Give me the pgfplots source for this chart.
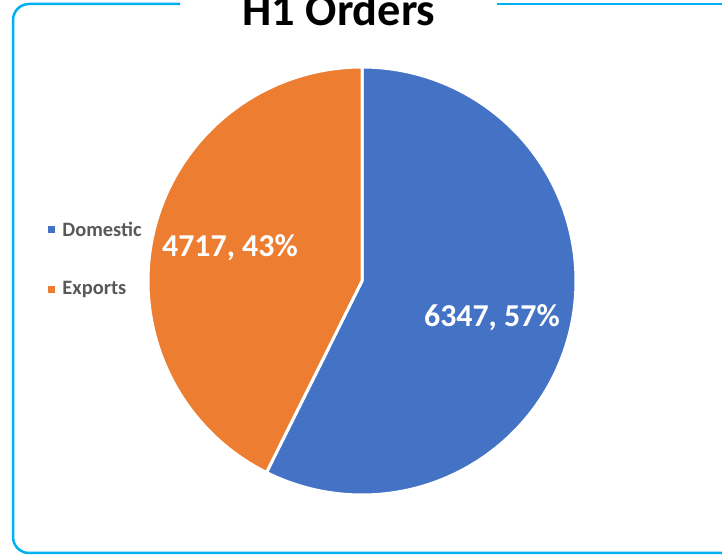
\documentclass[border=0pt]{standalone}
\usepackage{pgfplots}
\usepackage{pgfplotstable}
\pgfplotsset{compat=1.18}
\usepackage{fontspec}
\setmainfont{Carlito}
\definecolor{dom}{HTML}{4472C4}
\definecolor{expo}{HTML}{ED7D31}
\definecolor{framec}{HTML}{00B0F0}
\definecolor{legtext}{HTML}{595959}
\pgfplotstableread{
label value
Domestic 6347
Exports 4717
}\ordertable
\begin{document}
\begin{tikzpicture}
\pgfplotstablegetelem{0}{value}\of\ordertable \let\vDom\pgfplotsretval
\pgfplotstablegetelem{1}{value}\of\ordertable \let\vExp\pgfplotsretval
\pgfmathsetmacro\angA{360*(\vDom/(\vDom+\vExp))}
\useasboundingbox (0bp,0bp) rectangle (722bp,556bp);
\clip (0bp,0bp) rectangle (722bp,556bp);
\draw[framec, line width=2.5bp, rounded corners=16bp] (180bp,552bp) -- (13bp,552bp) -- (13bp,3bp) -- (760bp,3bp);
\draw[framec, line width=2.5bp] (497bp,552bp) -- (760bp,552bp);
\node[anchor=base, font=\bfseries\fontsize{46.5}{50}\selectfont] at (339bp,530bp) {H1 Orders};
\begin{axis}[
  at={(148bp,61bp)}, anchor=south west,
  scale only axis, width=428bp, height=428bp,
  xmin=-1, xmax=1, ymin=-1, ymax=1,
  axis lines=none, clip=false,
  legend style={at={(-0.24,0.551)}, anchor=west, draw=none, fill=none,
    font=\bfseries\fontsize{20.5}{24}\selectfont, text=legtext,
    row sep=40bp, cells={anchor=west}},
  legend image code/.code={\fill[#1, draw=none] (0bp,-3.5bp) rectangle (7bp,3.5bp); \path[draw=none, fill=none] (0bp,0bp) -- (12bp,0bp);},
]
\addplot[fill=dom, draw=white, line width=3bp, line join=round, domain=0:\angA, samples=150] ({sin(x)},{cos(x)}) -- (0,0) -- cycle;
\addlegendentry{Domestic}
\addplot[fill=expo, draw=white, line width=3bp, line join=round, domain=\angA:360, samples=120] ({sin(x)},{cos(x)}) -- (0,0) -- cycle;
\addlegendentry{Exports}
\node[text=white, font=\bfseries\fontsize{32}{35}\selectfont] at (axis cs:0.607,-0.173) {6347, 57\%};
\node[text=white, font=\bfseries\fontsize{32}{35}\selectfont] at (axis cs:-0.617,0.154) {4717, 43\%};
\end{axis}
\end{tikzpicture}
\end{document}
